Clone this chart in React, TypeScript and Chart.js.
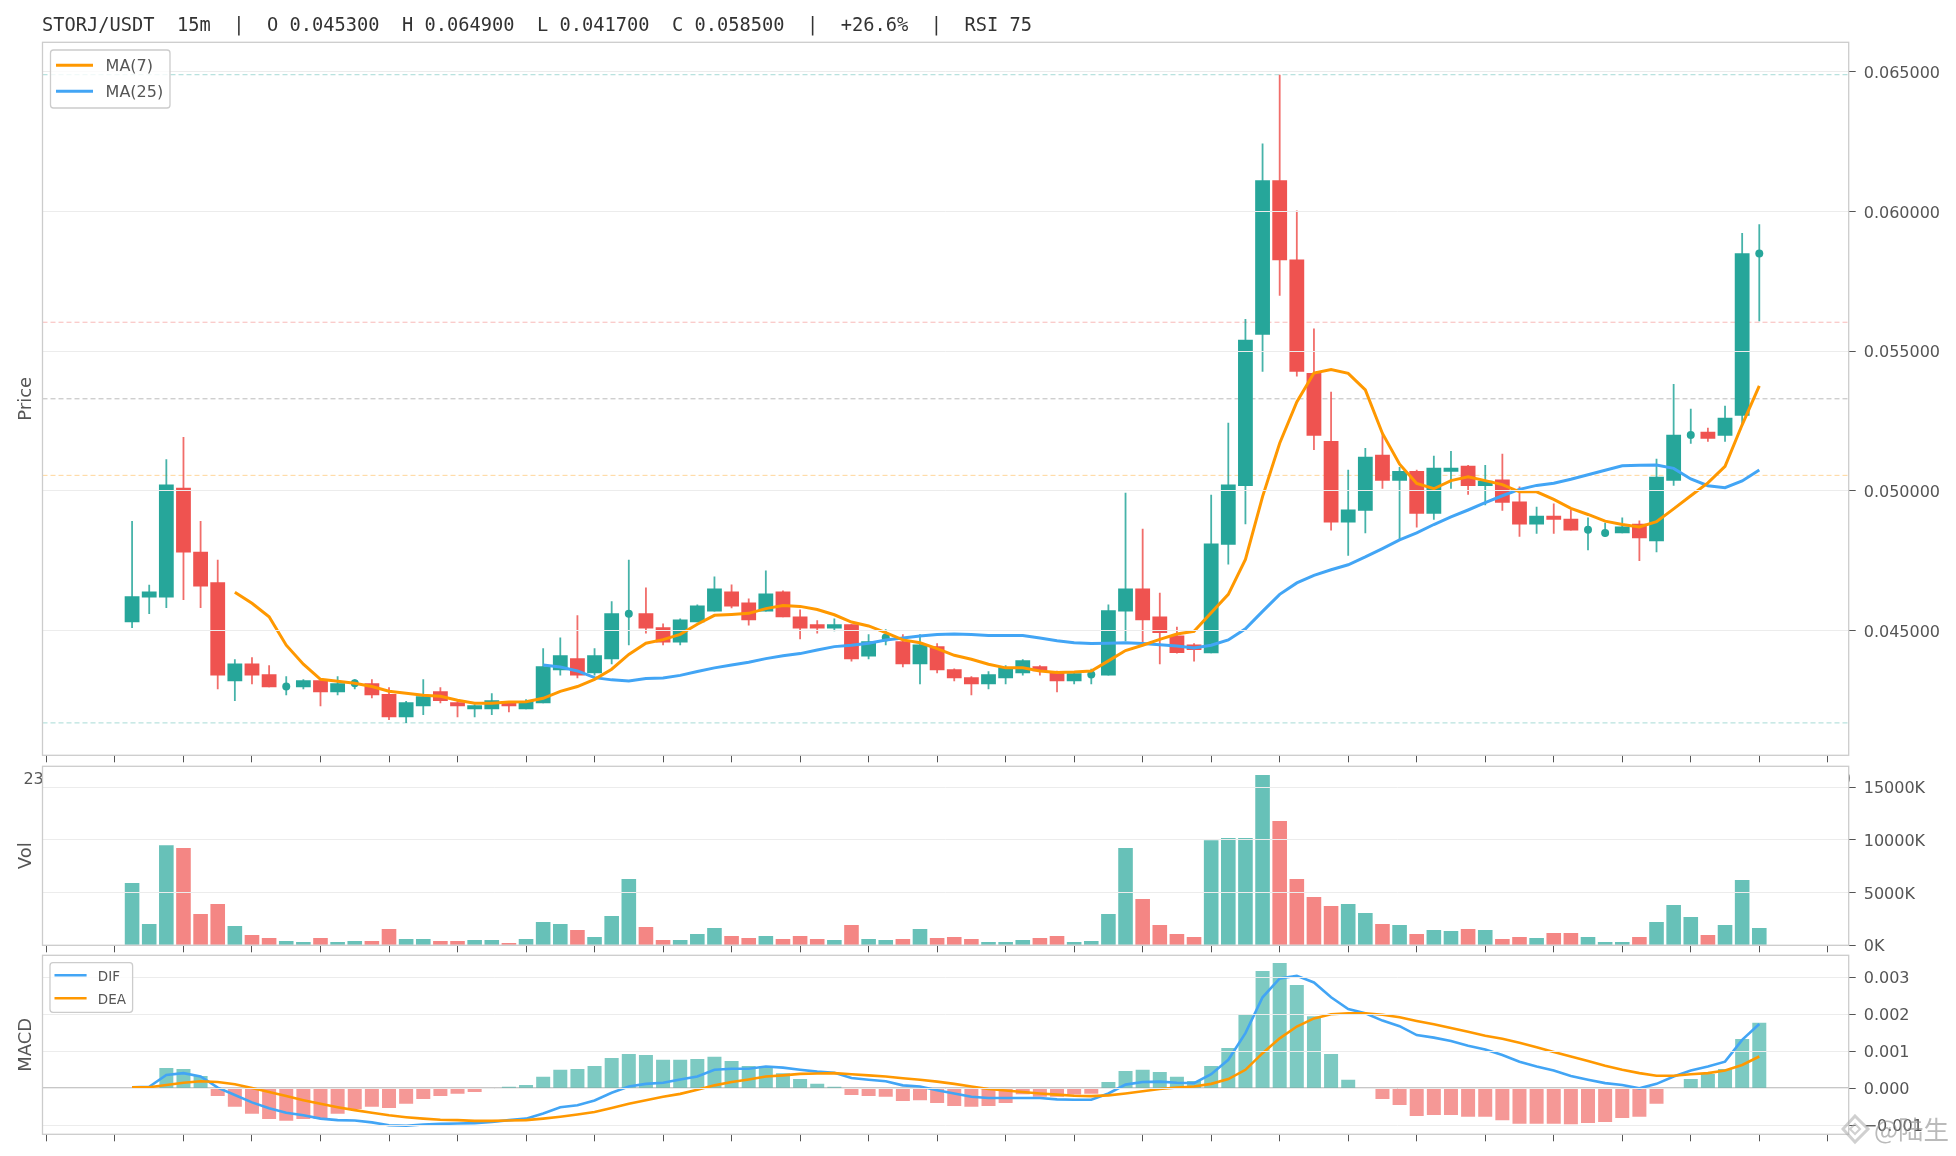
import React, { useEffect, useRef } from "react";
import { Chart, registerables } from "chart.js";

Chart.register(...registerables);

const TITLE = "STORJ/USDT  15m  |  O 0.045300  H 0.064900  L 0.041700  C 0.058500  |  +26.6%  |  RSI 75";

const opens = [
  0.0453, 0.04619, 0.04619, 0.05012, 0.04783, 0.04673, 0.04319, 0.04383, 0.04344, 0.043, 0.04298, 0.04323,
  0.0428, 0.04312, 0.04312, 0.04273, 0.0419, 0.0423, 0.04283, 0.04244, 0.04219, 0.04219, 0.04244, 0.04219,
  0.0424, 0.04358, 0.04401, 0.04348, 0.04398, 0.04561, 0.04562, 0.04512, 0.04458, 0.0453, 0.04569, 0.0464,
  0.04601, 0.04569, 0.0464, 0.04551, 0.04523, 0.04508, 0.04523, 0.04408, 0.04476, 0.04462, 0.0438, 0.04444,
  0.04362, 0.04333, 0.04308, 0.0433, 0.04348, 0.04373, 0.04355, 0.04319, 0.04343, 0.0434, 0.04569, 0.04651,
  0.04551, 0.04483, 0.04451, 0.04419, 0.04808, 0.05018, 0.05559, 0.06112, 0.05829, 0.05422, 0.05179, 0.04887,
  0.04929, 0.0513, 0.05037, 0.05072, 0.04919, 0.05069, 0.0509, 0.05018, 0.05041, 0.04962, 0.0488, 0.04911,
  0.04901, 0.04861, 0.0485, 0.04849, 0.04883, 0.0482, 0.05037, 0.052, 0.05212, 0.05198, 0.05269, 0.0585,
];
const closes = [
  0.04623, 0.0464, 0.05023, 0.0478, 0.04658, 0.0434, 0.04383, 0.0434, 0.04298, 0.043, 0.04323, 0.0428,
  0.04312, 0.04312, 0.04269, 0.0419, 0.04244, 0.04265, 0.04248, 0.0423, 0.04233, 0.04251, 0.0423, 0.04248,
  0.04373, 0.04412, 0.0434, 0.04412, 0.04562, 0.04561, 0.04508, 0.04458, 0.0454, 0.0459, 0.04651, 0.04587,
  0.04537, 0.04633, 0.04548, 0.04508, 0.04508, 0.04523, 0.04398, 0.04462, 0.04476, 0.0438, 0.04451, 0.04358,
  0.0433, 0.04308, 0.04344, 0.04369, 0.04394, 0.04355, 0.04319, 0.04348, 0.04343, 0.04573, 0.04651, 0.04537,
  0.04492, 0.0442, 0.04431, 0.04812, 0.05023, 0.05541, 0.06112, 0.05826, 0.05427, 0.05198, 0.04887, 0.04934,
  0.05123, 0.05037, 0.05072, 0.04919, 0.05083, 0.05083, 0.05018, 0.05037, 0.04958, 0.0488, 0.04911, 0.04897,
  0.04859, 0.04861, 0.0485, 0.04873, 0.04831, 0.05051, 0.05201, 0.052, 0.05187, 0.05262, 0.05851, 0.0585,
];
const highs = [
  0.04893, 0.04664, 0.05114, 0.05193, 0.04893, 0.04754, 0.04398, 0.04405, 0.04376, 0.04337, 0.04326, 0.04323,
  0.04337, 0.04326, 0.04326, 0.04298, 0.04248, 0.04326, 0.04298, 0.04248, 0.04237, 0.04276, 0.04248, 0.04255,
  0.04437, 0.04476, 0.04555, 0.04437, 0.04605, 0.04754, 0.04655, 0.04526, 0.04544, 0.04594, 0.04694, 0.04665,
  0.04615, 0.04715, 0.04644, 0.04576, 0.04537, 0.04544, 0.04523, 0.04487, 0.04505, 0.04487, 0.04487, 0.04455,
  0.04365, 0.04337, 0.04355, 0.04376, 0.04398, 0.04376, 0.04357, 0.04355, 0.04364, 0.04594, 0.04994, 0.04865,
  0.04636, 0.04514, 0.04455, 0.04987, 0.05244, 0.05616, 0.06244, 0.0649, 0.06004, 0.05582, 0.05355, 0.05076,
  0.05154, 0.05206, 0.05086, 0.05076, 0.05126, 0.05143, 0.05093, 0.05093, 0.05133, 0.05016, 0.04944, 0.04955,
  0.04934, 0.04905, 0.04886, 0.04905, 0.04894, 0.05115, 0.05383, 0.05294, 0.05226, 0.05305, 0.05923, 0.05955,
];
const lows = [
  0.0451, 0.0456, 0.04581, 0.0461, 0.04581, 0.0429, 0.04248, 0.04308, 0.04298, 0.04269, 0.0429, 0.0423,
  0.04269, 0.0429, 0.04258, 0.0418, 0.0417, 0.04198, 0.0424, 0.0419, 0.0419, 0.04198, 0.04208, 0.04219,
  0.0424, 0.0434, 0.0433, 0.0434, 0.0438, 0.04448, 0.0449, 0.04448, 0.04448, 0.0453, 0.04569, 0.0458,
  0.04519, 0.04569, 0.04548, 0.04469, 0.0449, 0.04498, 0.0439, 0.04398, 0.04448, 0.04369, 0.04308, 0.04348,
  0.04319, 0.04269, 0.0429, 0.04308, 0.0434, 0.0434, 0.0428, 0.04308, 0.04308, 0.0434, 0.04462, 0.04451,
  0.0438, 0.04418, 0.0439, 0.04419, 0.04737, 0.04881, 0.05427, 0.05699, 0.0541, 0.05147, 0.04859, 0.04768,
  0.04849, 0.05008, 0.04825, 0.04869, 0.04897, 0.05008, 0.04987, 0.04949, 0.04929, 0.04836, 0.04847, 0.04847,
  0.04859, 0.04788, 0.04836, 0.04849, 0.04749, 0.04781, 0.05019, 0.05169, 0.05176, 0.05176, 0.05231, 0.05608,
];
const ma7 = [
  null, null, null, null, null, null, 0.04638, 0.04598, 0.0455, 0.04448, 0.0438, 0.04326,
  0.04319, 0.04312, 0.043, 0.04283, 0.04276, 0.04269, 0.04265, 0.04251, 0.0424, 0.0424, 0.04245, 0.04246,
  0.04258, 0.04283, 0.043, 0.04326, 0.04362, 0.04415, 0.04455, 0.04468, 0.04487, 0.04523, 0.04555, 0.04558,
  0.04562, 0.04579, 0.0459, 0.04587, 0.04576, 0.04557, 0.04531, 0.04517, 0.04493, 0.04467, 0.04457, 0.04436,
  0.04412, 0.04398, 0.0438, 0.04367, 0.04367, 0.04356, 0.0435, 0.04352, 0.04356, 0.04392, 0.04429, 0.04448,
  0.04469, 0.04488, 0.04498, 0.04564, 0.0463, 0.04755, 0.0498, 0.05171, 0.05319, 0.05422, 0.05435, 0.05421,
  0.05362, 0.05206, 0.05096, 0.05027, 0.05008, 0.05037, 0.05051, 0.05037, 0.05023, 0.04997, 0.04997, 0.0497,
  0.04938, 0.04916, 0.04892, 0.0488, 0.04871, 0.0489, 0.04936, 0.04983, 0.05029, 0.05088, 0.05237, 0.05376,
];
const ma25 = [
  null, null, null, null, null, null, null, null, null, null, null, null,
  null, null, null, null, null, null, null, null, null, null, null, null,
  0.04377, 0.0437, 0.04356, 0.04332, 0.04324, 0.0432, 0.04329, 0.04331, 0.0434, 0.04354, 0.04367, 0.04377,
  0.04387, 0.044, 0.0441, 0.04418, 0.04431, 0.04443, 0.04448, 0.04455, 0.04467, 0.04474, 0.04481, 0.04486,
  0.04488, 0.04486, 0.04483, 0.04483, 0.04483, 0.04474, 0.04464, 0.04457, 0.04454, 0.04455, 0.04457, 0.04454,
  0.0445, 0.04445, 0.04438, 0.04448, 0.04467, 0.04507, 0.04569, 0.0463, 0.04671, 0.04698, 0.04718, 0.04736,
  0.04764, 0.04794, 0.04825, 0.0485, 0.0488, 0.04907, 0.04932, 0.04958, 0.04983, 0.05006, 0.0502, 0.05028,
  0.05042, 0.05058, 0.05074, 0.0509, 0.05092, 0.05093, 0.05081, 0.05043, 0.05019, 0.05012, 0.05036, 0.05075,
];
const volumesK = [
  5919, 2026, 9495, 9242, 2975, 3925, 1836, 981, 696, 411, 316, 696,
  316, 411, 411, 1551, 601, 601, 411, 411, 506, 506, 222, 601,
  2216, 2026, 1456, 791, 2785, 6298, 1741, 506, 506, 1076, 1646, 886,
  696, 886, 601, 886, 601, 506, 1931, 601, 506, 601, 1551, 696,
  791, 601, 316, 316, 506, 696, 886, 316, 411, 2975, 9242, 4399,
  1931, 1076, 791, 9970, 10191, 10191, 16173, 11805, 6298, 4589, 3735, 3925,
  3070, 2026, 1931, 1076, 1456, 1361, 1551, 1456, 601, 791, 696, 1171,
  1171, 791, 316, 316, 791, 2216, 3830, 2690, 981, 1931, 6203, 1646,
];
const macdHist = [
  0, 0, 0.00055, 0.00052, 0.00033, -0.00021, -0.0005, -0.00069, -0.00083, -0.00088, -0.00083, -0.00083,
  -0.00069, -0.00056, -0.0005, -0.00053, -0.00042, -0.00029, -0.00021, -0.00015, -0.0001, 0, 0.00004, 0.00009,
  0.00031, 0.0005, 0.00052, 0.0006, 0.00082, 0.00093, 0.0009, 0.00077, 0.00077, 0.00079, 0.00085, 0.00074,
  0.0006, 0.0006, 0.00041, 0.00025, 0.00012, 0.00004, -0.00018, -0.00021, -0.00023, -0.00034, -0.00032, -0.0004,
  -0.00048, -0.0005, -0.00048, -0.0004, -0.00016, -0.00023, -0.00023, -0.00017, -0.00015, 0.00017, 0.00047, 0.0005,
  0.00044, 0.00031, 0.0002, 0.0006, 0.00109, 0.00198, 0.00317, 0.00339, 0.00279, 0.00195, 0.00093, 0.00023,
  0, -0.00029, -0.00045, -0.00075, -0.00072, -0.00072, -0.00077, -0.00077, -0.00086, -0.00096, -0.00096, -0.00096,
  -0.00097, -0.00094, -0.00091, -0.0008, -0.00077, -0.00042, 0, 0.00025, 0.00039, 0.00052, 0.00133, 0.00177,
];
const dif = [
  0.00003, 0.00004, 0.00036, 0.00041, 0.00032, 0.00002, -0.00018, -0.00038, -0.00054, -0.00066, -0.00073, -0.00082,
  -0.00086, -0.00087, -0.00092, -0.001, -0.00101, -0.00098, -0.00096, -0.00095, -0.00094, -0.00091, -0.00086, -0.00082,
  -0.00068, -0.00051, -0.00046, -0.00033, -0.00012, 0.00005, 0.00012, 0.00015, 0.00024, 0.00032, 0.0005, 0.00053,
  0.00053, 0.00059, 0.00056, 0.0005, 0.00045, 0.00042, 0.00028, 0.00023, 0.00019, 0.00008, 0.00005, -0.00005,
  -0.00014, -0.00023, -0.00026, -0.00026, -0.00026, -0.00026, -0.0003, -0.00031, -0.00031, -0.00014, 0.0001, 0.00017,
  0.00018, 0.00015, 0.00014, 0.00038, 0.00077, 0.00149, 0.00246, 0.00297, 0.00304, 0.00286, 0.00246, 0.00214,
  0.00203, 0.00183, 0.00168, 0.00144, 0.00137, 0.00128, 0.00115, 0.00105, 0.0009, 0.00072, 0.00059, 0.00048,
  0.00033, 0.00023, 0.00014, 0.00009, 0, 0.00012, 0.00032, 0.00048, 0.00059, 0.00072, 0.00131, 0.00174,
];
const dea = [
  0.00003, 0.00003, 0.00009, 0.00015, 0.00019, 0.00017, 0.00011, 0.00001, -0.0001, -0.00021, -0.00032, -0.00042,
  -0.00051, -0.00059, -0.00066, -0.00073, -0.00078, -0.00082, -0.00085, -0.00086, -0.00088, -0.00088, -0.00087, -0.00086,
  -0.00082, -0.00077, -0.00071, -0.00064, -0.00053, -0.00042, -0.00032, -0.00023, -0.00015, -0.00004, 0.00008, 0.00017,
  0.00024, 0.00032, 0.00035, 0.00039, 0.0004, 0.00041, 0.00038, 0.00035, 0.00032, 0.00027, 0.00023, 0.00018,
  0.00012, 0.00005, -0.00002, -0.00006, -0.0001, -0.00014, -0.00017, -0.0002, -0.00021, -0.00019, -0.00014, -0.00008,
  -0.00002, 0.00002, 0.00005, 0.00012, 0.00025, 0.0005, 0.00095, 0.00135, 0.00167, 0.00189, 0.002, 0.00203,
  0.00203, 0.00199, 0.00192, 0.00182, 0.00173, 0.00163, 0.00153, 0.00142, 0.00134, 0.00123, 0.00111, 0.00098,
  0.00086, 0.00074, 0.00061, 0.0005, 0.00041, 0.00034, 0.00034, 0.00038, 0.00041, 0.00048, 0.00063, 0.00086,
];

const priceTicks = [0.045, 0.05, 0.055, 0.06, 0.065];
const volTicks = [0, 5000, 10000, 15000];
const macdTicks = [-0.001, 0, 0.001, 0.002, 0.003];
const xTickIndex = [-5, -1, 3, 7, 11, 15, 19, 23, 27, 31, 35, 39, 43, 47, 51, 55, 59, 63, 67, 71, 75, 79, 83, 87, 91, 95, 99];
const xTickLabels = [
  "23:00", "00:00", "01:00", "02:00", "03:00", "04:00", "05:00", "06:00", "07:00", "08:00", "09:00", "10:00", "11:00",
  "12:00", "13:00", "14:00", "15:00", "16:00", "17:00", "18:00", "19:00", "20:00", "21:00", "22:00", "23:00", "00:00", "01:00",
];
const priceLevels = [
  { value: 0.0649, color: "rgba(38,166,154,0.4)" },
  { value: 0.05604, color: "rgba(239,83,80,0.4)" },
  { value: 0.0533, color: "rgba(120,120,120,0.5)" },
  { value: 0.05056, color: "rgba(255,152,0,0.4)" },
  { value: 0.0417, color: "rgba(38,166,154,0.4)" },
];

const TEAL = "#26a69a";
const RED = "#ef5350";
const ORANGE = "#ff9800";
const BLUE = "#42a5f5";
const XMIN = -5.23;
const XMAX = 100.22;
const LEFT = 42.5;
const RIGHT = 1848.7;
const W = 1956;
const H = 1156;
const FONT = "'DejaVu Sans'";
const idx = opens.map((_, i) => i);
const up = (i: number) => closes[i] >= opens[i];

function panelPlugin(axisTitle: string, extra?: (c: any) => void) {
  return {
    id: "panel" + axisTitle,
    beforeDraw(c: any) {
      const a = c.chartArea;
      const g = c.ctx;
      g.save();
      g.fillStyle = "#ffffff";
      g.fillRect(a.left, a.top, a.right - a.left, a.bottom - a.top);
      g.restore();
    },
    afterDraw(c: any) {
      const a = c.chartArea;
      const g = c.ctx;
      g.save();
      g.strokeStyle = "#cccccc";
      g.lineWidth = 1.3;
      g.strokeRect(a.left, a.top, a.right - a.left, a.bottom - a.top);
      g.translate(31, (a.top + a.bottom) / 2);
      g.rotate(-Math.PI / 2);
      g.fillStyle = "#555555";
      g.font = `18px ${FONT}`;
      g.textAlign = "center";
      g.textBaseline = "alphabetic";
      g.fillText(axisTitle, 0, 0);
      g.restore();
      if (extra) extra(c);
    },
  };
}

function legendBox(
  c: any, x0: number, x1: number, y0: number, y1: number,
  items: { label: string; color: string; y: number }[],
  hx0: number, hx1: number, tx: number, size: number, lw: number,
) {
  const g = c.ctx;
  g.save();
  g.beginPath();
  g.roundRect(x0, y0, x1 - x0, y1 - y0, 3);
  g.fillStyle = "rgba(255,255,255,0.8)";
  g.fill();
  g.strokeStyle = "#cccccc";
  g.lineWidth = 1.3;
  g.stroke();
  for (const it of items) {
    g.beginPath();
    g.moveTo(hx0, it.y);
    g.lineTo(hx1, it.y);
    g.strokeStyle = it.color;
    g.lineWidth = lw;
    g.stroke();
    g.fillStyle = "#555555";
    g.font = `${size}px ${FONT}`;
    g.textBaseline = "middle";
    g.fillText(it.label, tx, it.y + 2);
  }
  g.restore();
}

function baseOptions(top: number, xHeight: number, yMin: number, yMax: number, yTicks: number[], fmt: (v: number) => string, xLabels: boolean) {
  return {
    responsive: false,
    animation: false as const,
    devicePixelRatio: 1,
    layout: { autoPadding: false, padding: { left: LEFT, top, right: 0, bottom: 0 } },
    plugins: { legend: { display: false }, tooltip: { enabled: false }, title: { display: false } },
    scales: {
      x: {
        type: "linear" as const,
        min: XMIN,
        max: XMAX,
        offset: false,
        afterBuildTicks: (s: any) => { s.ticks = xTickIndex.map((value) => ({ value })); },
        afterFit: (s: any) => { s.height = xHeight; },
        grid: { offset: false, drawOnChartArea: false, drawTicks: true, tickLength: 7, tickColor: "#555555", tickWidth: 1 },
        border: { display: false },
        ticks: {
          display: xLabels,
          autoSkip: false,
          maxRotation: 0,
          minRotation: 0,
          padding: 8,
          color: "#555555",
          font: { family: FONT, size: 16 },
          callback: (v: any) => { const k = xTickIndex.indexOf(v); return k >= 0 ? xTickLabels[k] : ""; },
        },
      },
      y: {
        type: "linear" as const,
        position: "right" as const,
        min: yMin,
        max: yMax,
        afterBuildTicks: (s: any) => { s.ticks = yTicks.map((value) => ({ value })); },
        afterFit: (s: any) => { s.width = W - RIGHT; },
        grid: { color: "#ececec", lineWidth: 1, z: 1, tickLength: 7, tickColor: "#555555", tickWidth: 1 },
        border: { display: false },
        ticks: { padding: 8, labelOffset: 2, color: "#555555", font: { family: FONT, size: 16 }, callback: (v: any) => fmt(v) },
      },
    },
  };
}

const barBase = { type: "bar" as const, grouped: false, inflateAmount: 0, borderWidth: 0, borderSkipped: false };

export default function App() {
  const mainRef = useRef<HTMLCanvasElement>(null);
  const volRef = useRef<HTMLCanvasElement>(null);
  const macdRef = useRef<HTMLCanvasElement>(null);

  useEffect(() => {
    const mainChart = new Chart(mainRef.current as any, {
      data: {
        datasets: [
          ...priceLevels.map((l) => ({
            type: "line" as const,
            data: [{ x: XMIN, y: l.value }, { x: XMAX, y: l.value }],
            borderColor: l.color,
            borderWidth: 1,
            borderDash: [5, 3],
            pointRadius: 0,
            order: 9,
          })),
          {
            ...barBase,
            label: "wick",
            data: idx.map((i) => ({ x: i, y: [lows[i], highs[i]] })),
            backgroundColor: idx.map((i) => (up(i) ? "rgba(38,166,154,0.85)" : "rgba(239,83,80,0.85)")),
            barThickness: 1.8,
            order: 8,
          },
          {
            ...barBase,
            label: "body",
            data: idx.filter((i) => opens[i] !== closes[i]).map((i) => ({ x: i, y: [opens[i], closes[i]] })),
            backgroundColor: idx.filter((i) => opens[i] !== closes[i]).map((i) => (up(i) ? TEAL : RED)),
            barThickness: 14.8,
            order: 7,
          },
          {
            type: "line" as const,
            label: "doji",
            data: idx.filter((i) => opens[i] === closes[i]).map((i) => ({ x: i, y: closes[i] })),
            showLine: false,
            pointRadius: 4,
            pointBackgroundColor: TEAL,
            pointBorderWidth: 0,
            order: 6,
          },
          {
            type: "line" as const,
            label: "MA(25)",
            data: idx.filter((i) => ma25[i] !== null).map((i) => ({ x: i, y: ma25[i] })),
            borderColor: BLUE,
            borderWidth: 3,
            pointRadius: 0,
            tension: 0,
            order: 2,
          },
          {
            type: "line" as const,
            label: "MA(7)",
            data: idx.filter((i) => ma7[i] !== null).map((i) => ({ x: i, y: ma7[i] })),
            borderColor: ORANGE,
            borderWidth: 3,
            pointRadius: 0,
            tension: 0,
            order: 1,
          },
        ],
      },
      options: baseOptions(42.3, H - 755.3, 0.04054, 0.06606, priceTicks, (v) => v.toFixed(6), true) as any,
      plugins: [
        panelPlugin("Price", (c) => {
          legendBox(c, 50.5, 170, 50, 108, [
            { label: "MA(7)", color: ORANGE, y: 65.3 },
            { label: "MA(25)", color: BLUE, y: 91.3 },
          ], 56, 93, 105.6, 16, 3);
          const g = c.ctx;
          g.save();
          g.fillStyle = "#333333";
          g.font = "18.7px 'DejaVu Sans Mono'";
          g.textBaseline = "alphabetic";
          g.fillText(TITLE, 42, 31);
          g.restore();
        }),
      ],
    } as any);

    const volChart = new Chart(volRef.current as any, {
      data: {
        datasets: [
          {
            ...barBase,
            label: "Vol",
            data: idx.map((i) => ({ x: i, y: volumesK[i] })),
            backgroundColor: idx.map((i) => (up(i) ? "rgba(38,166,154,0.7)" : "rgba(239,83,80,0.7)")),
            barThickness: 14.6,
          },
        ],
      },
      options: baseOptions(766.3, H - 945.3, 0, 16993, volTicks, (v) => `${v}K`, false) as any,
      plugins: [panelPlugin("Vol")],
    } as any);

    const macdChart = new Chart(macdRef.current as any, {
      data: {
        datasets: [
          {
            type: "line" as const,
            label: "zero",
            data: [{ x: XMIN, y: 0 }, { x: XMAX, y: 0 }],
            borderColor: "#8f8f8f",
            borderWidth: 1.4,
            pointRadius: 0,
            order: 4,
          },
          {
            ...barBase,
            label: "MACD",
            data: idx.map((i) => ({ x: i, y: macdHist[i] })),
            backgroundColor: idx.map((i) => (macdHist[i] >= 0 ? "rgba(38,166,154,0.6)" : "rgba(239,83,80,0.6)")),
            barThickness: 14,
            order: 3,
          },
          {
            type: "line" as const,
            label: "DIF",
            data: idx.map((i) => ({ x: i, y: dif[i] })),
            borderColor: BLUE,
            borderWidth: 2.6,
            pointRadius: 0,
            tension: 0,
            order: 2,
          },
          {
            type: "line" as const,
            label: "DEA",
            data: idx.map((i) => ({ x: i, y: dea[i] })),
            borderColor: ORANGE,
            borderWidth: 2.6,
            pointRadius: 0,
            tension: 0,
            order: 1,
          },
        ],
      },
      options: baseOptions(955.3, H - 1134.3, -0.001243, 0.003595, macdTicks, (v) => (v < 0 ? "\u2212" + Math.abs(v).toFixed(3) : v.toFixed(3)), false) as any,
      plugins: [
        panelPlugin("MACD", (c) => {
          legendBox(c, 50, 132.6, 962.7, 1012.3, [
            { label: "DIF", color: BLUE, y: 975.3 },
            { label: "DEA", color: ORANGE, y: 998.3 },
          ], 54.5, 86.6, 97.8, 13.5, 2.6);
        }),
      ],
    } as any);

    return () => {
      mainChart.destroy();
      volChart.destroy();
      macdChart.destroy();
    };
  }, []);

  const canvasStyle: React.CSSProperties = { position: "absolute", left: 0, top: 0, width: W, height: H };
  return (
    <div style={{ position: "fixed", left: 0, top: 0, width: W, height: H, background: "#fff", overflow: "hidden" }}>
      <canvas ref={mainRef} width={W} height={H} style={canvasStyle} />
      <canvas ref={volRef} width={W} height={H} style={canvasStyle} />
      <canvas ref={macdRef} width={W} height={H} style={canvasStyle} />
      <svg width={30} height={32} style={{ position: "absolute", left: 1841, top: 1114 }}>
        <path d="M14 2 L27 15 L14 28 L2 15 Z" fill="none" stroke="rgba(170,170,170,0.55)" strokeWidth={3} />
        <path d="M14 10 L19 15 L14 20 L9 15 Z" fill="none" stroke="rgba(170,170,170,0.55)" strokeWidth={2} />
      </svg>
      <div style={{ position: "absolute", left: 1874, top: 1110, color: "rgba(140,140,140,0.6)", font: "25.5px 'Noto Sans CJK SC'", whiteSpace: "pre", lineHeight: "36px" }}>
        @陆生
      </div>
    </div>
  );
}
